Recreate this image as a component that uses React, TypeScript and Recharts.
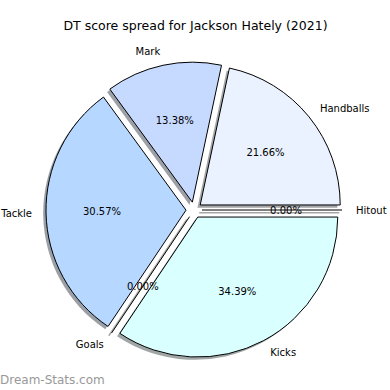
import React from "react"
import { PieChart, Pie, Sector } from "recharts"

const labels = ["Handballs", "Mark", "Tackle", "Goals", "Kicks", "Hitout"]
const values = [34, 21, 48, 0, 54, 0]
const colors = ["#eaf2ff", "#c6d9ff", "#b6d7ff", "#ffffff", "#d9ffff", "#ffffff"]

const total = values.reduce((a, b) => a + b, 0)
const data = labels.map((name, i) => ({ name, value: values[i], fill: colors[i] }))

const RAD = Math.PI / 180
const EXPLODE = 8
const SHADOW = 2.8
const FONT = "DejaVu Sans"

function darken(hex: string) {
  const n = parseInt(hex.slice(1), 16)
  const r = Math.round(((n >> 16) & 255) * 0.3)
  const g = Math.round(((n >> 8) & 255) * 0.3)
  const b = Math.round((n & 255) * 0.3)
  return `rgb(${r},${g},${b})`
}

function ExplodedSlice(props: any) {
  const { cx, cy, startAngle, endAngle, midAngle, outerRadius, fill } = props
  const x0 = cx + EXPLODE * Math.cos(midAngle * RAD)
  const y0 = cy - EXPLODE * Math.sin(midAngle * RAD)
  const shadow = darken(fill)

  if (Math.abs(endAngle - startAngle) < 1e-6) {
    const x1 = x0 + outerRadius * Math.cos(midAngle * RAD)
    const y1 = y0 - outerRadius * Math.sin(midAngle * RAD)
    return (
      <g>
        <line x1={x0 - SHADOW} y1={y0 + SHADOW} x2={x1 - SHADOW} y2={y1 + SHADOW}
          stroke={shadow} strokeOpacity={0.5} strokeWidth={1.5} />
        <line x1={x0} y1={y0} x2={x1} y2={y1} stroke="#000" strokeWidth={1} />
      </g>
    )
  }

  return (
    <g>
      <Sector cx={x0 - SHADOW} cy={y0 + SHADOW} innerRadius={0} outerRadius={outerRadius}
        startAngle={startAngle} endAngle={endAngle} fill={shadow} fillOpacity={0.5} stroke="none" />
      <Sector cx={x0} cy={y0} innerRadius={0} outerRadius={outerRadius}
        startAngle={startAngle} endAngle={endAngle} fill={fill} stroke="#000" strokeWidth={1} />
    </g>
  )
}

function SliceLabel(props: any) {
  const { cx, cy, midAngle, outerRadius, value, name } = props
  const cos = Math.cos(midAngle * RAD)
  const sin = Math.sin(midAngle * RAD)
  const x0 = cx + EXPLODE * cos
  const y0 = cy - EXPLODE * sin
  const lx = x0 + 1.1 * outerRadius * cos
  const ly = y0 - 1.1 * outerRadius * sin
  const px = x0 + 0.6 * outerRadius * cos
  const py = y0 - 0.6 * outerRadius * sin
  const pct = ((value / total) * 100).toFixed(2) + "%"
  return (
    <g>
      <text x={lx} y={ly} textAnchor={lx > x0 ? "start" : "end"} dominantBaseline="central"
        fontFamily={FONT} fontSize={10} fill="#000">{name}</text>
      <text x={px} y={py} textAnchor="middle" dominantBaseline="central"
        fontFamily={FONT} fontSize={10} fill="#000">{pct}</text>
    </g>
  )
}

export default function App() {
  return (
    <div style={{ position: "absolute", left: 0, top: 0, width: 390, height: 390, background: "#fff" }}>
      <PieChart width={390} height={390} margin={{ top: 0, right: 0, bottom: 0, left: 0 }}>
        <text x={195.5} y={25} textAnchor="middle" dominantBaseline="central"
          fontFamily={FONT} fontSize={12.5} fill="#000">
          DT score spread for Jackson Hately (2021)
        </text>
        <Pie
          data={data}
          dataKey="value"
          nameKey="name"
          cx={194}
          cy={210}
          innerRadius={0}
          outerRadius={140}
          startAngle={0}
          endAngle={360}
          paddingAngle={0}
          shape={ExplodedSlice}
          label={SliceLabel}
          labelLine={false}
          isAnimationActive={false}
        />
        <text x={0} y={380} dominantBaseline="central" fontFamily={FONT} fontSize={12} fill="#999">
          Dream-Stats.com
        </text>
      </PieChart>
    </div>
  )
}
